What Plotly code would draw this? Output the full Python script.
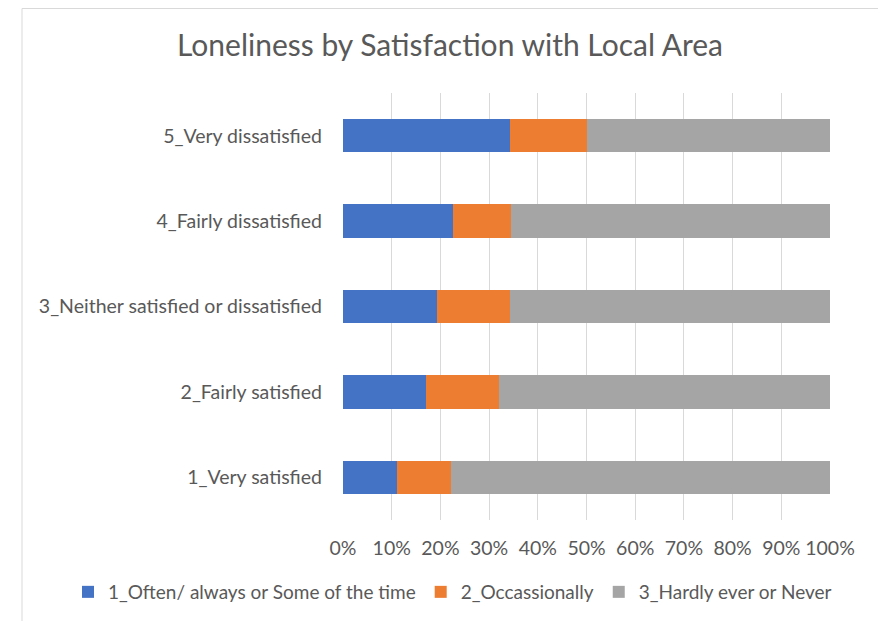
import plotly.graph_objects as go

categories = ["1_Very satisfied", "2_Fairly satisfied", "3_Neither satisfied or dissatisfied",
              "4_Fairly dissatisfied", "5_Very dissatisfied"]
often = [11.1, 17.0, 19.3, 22.6, 34.2]
occasionally = [11.0, 15.1, 14.9, 11.8, 15.8]
hardly = [77.9, 67.9, 65.8, 65.6, 50.0]

series_names = ["1_Often/ always or Some of the time", "2_Occassionally", "3_Hardly ever or Never"]
colors = ["#4472C4", "#ED7D31", "#A5A5A5"]

FONT = "Lato"
TEXT = "#595959"

# page body has an 8px margin, so the figure is a bit smaller than the window
W, H = 878, 613
L, R, T, B = 335, 56, 85, 101
PW, PH = W - L - R, H - T - B


def px_x(x):
    # figure pixel -> paper x
    return (x - L) / PW


def px_y(y):
    # figure pixel -> paper y
    return (H - B - y) / PH


fig = go.Figure()
for name, vals, col in zip(series_names, [often, occasionally, hardly], colors):
    fig.add_trace(go.Bar(y=categories, x=vals, name=name, orientation="h",
                         marker=dict(color=col, line_width=0), hoverinfo="x+name"))

# chart border (Excel chart area)
fig.add_shape(type="rect", xref="paper", yref="paper", x0=px_x(14), x1=px_x(871),
              y0=px_y(640), y1=px_y(0.5),
              line=dict(color="#D9D9D9", width=1), fillcolor="rgba(0,0,0,0)", layer="below")

fig.update_layout(
    barmode="stack",
    bargap=0.61,
    width=W, height=H,
    margin=dict(l=L, r=R, t=T, b=B, autoexpand=False),
    plot_bgcolor="white", paper_bgcolor="white",
    font=dict(family=FONT, color=TEXT, size=19),
    title=dict(text="Loneliness by Satisfaction with Local Area", x=442 / W, xref="container",
               xanchor="center", y=1 - 37 / H, yref="container", yanchor="middle",
               font=dict(size=30, color=TEXT, family=FONT)),
    legend=dict(orientation="h", x=px_x(60), xanchor="left",
                y=px_y(584), yanchor="middle",
                font=dict(size=19, color=TEXT), traceorder="normal", itemwidth=30),
    showlegend=True,
)
fig.update_xaxes(range=[0, 100], dtick=10, ticksuffix="%", showgrid=True, gridcolor="#D9D9D9",
                 gridwidth=1, zeroline=False, tickfont=dict(size=19.5, color=TEXT), ticks="",
                 ticklabelstandoff=14, fixedrange=True)
fig.update_yaxes(showgrid=False, tickfont=dict(size=19.5, color=TEXT), ticks="",
                 ticklabelstandoff=20, fixedrange=True)

fig.write_html("out.html")
